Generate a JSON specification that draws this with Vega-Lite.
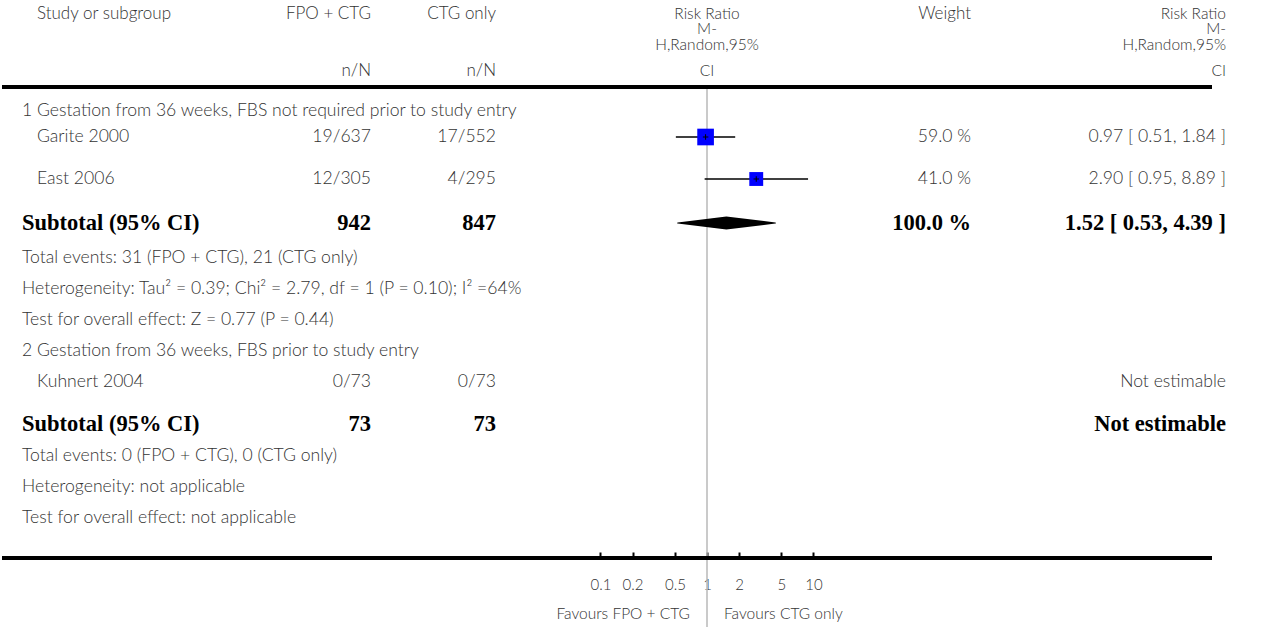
{
  "$schema": "https://vega.github.io/schema/vega-lite/v6.json",
  "background": "white",
  "padding": 0,
  "spacing": 0,
  "bounds": "flush",
  "config": {
    "view": {"stroke": null},
    "text": {"font": "Lato", "fontSize": 17.6, "fontWeight": 300, "color": "#333333", "baseline": "middle"}
  },
  "datasets": {
    "rows": [
      {"row": 5, "kind": "group", "label": "1 Gestation from 36 weeks, FBS not required prior to study entry"},
      {"row": 6, "kind": "study", "label": "Garite 2000", "e1": "19/637", "e2": "17/552", "rr": 0.97, "lo": 0.51, "hi": 1.84, "w": 59.0, "wt": "59.0 %", "ci": "0.97 [ 0.51, 1.84 ]"},
      {"row": 7, "kind": "study", "label": "East 2006", "e1": "12/305", "e2": "4/295", "rr": 2.90, "lo": 0.95, "hi": 8.89, "w": 41.0, "wt": "41.0 %", "ci": "2.90 [ 0.95, 8.89 ]"},
      {"row": 8, "kind": "subtotal", "label": "Subtotal (95% CI)", "e1": "942", "e2": "847", "rr": 1.52, "lo": 0.53, "hi": 4.39, "w": 100.0, "wt": "100.0 %", "ci": "1.52 [ 0.53, 4.39 ]"},
      {"row": 9, "kind": "note", "label": "Total events: 31 (FPO + CTG), 21 (CTG only)"},
      {"row": 10, "kind": "note", "label": "Heterogeneity: Tau² = 0.39; Chi² = 2.79, df = 1 (P = 0.10); I² =64%"},
      {"row": 11, "kind": "note", "label": "Test for overall effect: Z = 0.77 (P = 0.44)"},
      {"row": 12, "kind": "group", "label": "2 Gestation from 36 weeks, FBS prior to study entry"},
      {"row": 13, "kind": "study", "label": "Kuhnert 2004", "e1": "0/73", "e2": "0/73", "ci": "Not estimable"},
      {"row": 14, "kind": "subtotal", "label": "Subtotal (95% CI)", "e1": "73", "e2": "73", "ci": "Not estimable"},
      {"row": 15, "kind": "note", "label": "Total events: 0 (FPO + CTG), 0 (CTG only)"},
      {"row": 16, "kind": "note", "label": "Heterogeneity: not applicable"},
      {"row": 17, "kind": "note", "label": "Test for overall effect: not applicable"}
    ],
    "rules": [{"row": 4}, {"row": 18}]
  },
  "hconcat": [
    {
      "width": 369, "height": 627,
      "layer": [
        {"data": {"name": "rules"}, "mark": {"type": "rule", "strokeWidth": 4, "color": "black"},
         "encoding": {"y": {"field": "row", "type": "quantitative", "axis": null, "scale": {"domain": [0,1,2,3,4,5,6,7,8,9,10,11,12,13,14,15,16,17,18,19,20,21], "range": [13.5,29,44.5,71,87,111,137,179,223,258,289,320,351,382,424,456,487,518,558,586,614,627], "nice": false, "zero": false}}}},
        {"data": {"values": [{"row": 0, "text": "Study or subgroup"}]}, "mark": {"type": "text", "align": "left", "dx": 35, "fontSize": 17},
         "encoding": {"x": {"value": 0}, "y": {"field": "row", "type": "quantitative", "axis": null}, "text": {"field": "text"}}},
        {"data": {"values": [{"row": 0, "text": "FPO + CTG"}, {"row": 3, "text": "n/N"}]}, "mark": {"type": "text", "align": "right", "fontSize": 17},
         "encoding": {"x": {"value": "width"}, "y": {"field": "row", "type": "quantitative", "axis": null}, "text": {"field": "text"}}},
        {"data": {"name": "rows"}, "transform": [{"filter": "datum.kind === 'group' || datum.kind === 'note'"}],
         "mark": {"type": "text", "align": "left", "dx": 20},
         "encoding": {"x": {"value": 0}, "y": {"field": "row", "type": "quantitative", "axis": null}, "text": {"field": "label"}}},
        {"data": {"name": "rows"}, "transform": [{"filter": "datum.kind === 'study'"}],
         "mark": {"type": "text", "align": "left", "dx": 35},
         "encoding": {"x": {"value": 0}, "y": {"field": "row", "type": "quantitative", "axis": null}, "text": {"field": "label"}}},
        {"data": {"name": "rows"}, "transform": [{"filter": "datum.kind === 'subtotal'"}],
         "mark": {"type": "text", "align": "left", "dx": 20, "font": "Liberation Serif", "fontWeight": "bold", "fontSize": 22.5, "color": "black"},
         "encoding": {"x": {"value": 0}, "y": {"field": "row", "type": "quantitative", "axis": null}, "text": {"field": "label"}}},
        {"data": {"name": "rows"}, "transform": [{"filter": "datum.kind === 'study'"}],
         "mark": {"type": "text", "align": "right"},
         "encoding": {"x": {"value": "width"}, "y": {"field": "row", "type": "quantitative", "axis": null}, "text": {"field": "e1"}}},
        {"data": {"name": "rows"}, "transform": [{"filter": "datum.kind === 'subtotal'"}],
         "mark": {"type": "text", "align": "right", "font": "Liberation Serif", "fontWeight": "bold", "fontSize": 22.5, "color": "black"},
         "encoding": {"x": {"value": "width"}, "y": {"field": "row", "type": "quantitative", "axis": null}, "text": {"field": "e1"}}}
      ]
    },
    {
      "width": 123, "height": 627,
      "layer": [
        {"data": {"name": "rules"}, "mark": {"type": "rule", "strokeWidth": 4, "color": "black"},
         "encoding": {"y": {"field": "row", "type": "quantitative", "axis": null, "scale": {"domain": [0,1,2,3,4,5,6,7,8,9,10,11,12,13,14,15,16,17,18,19,20,21], "range": [13.5,29,44.5,71,87,111,137,179,223,258,289,320,351,382,424,456,487,518,558,586,614,627], "nice": false, "zero": false}}}},
        {"data": {"values": [{"row": 0, "text": "CTG only"}, {"row": 3, "text": "n/N"}]}, "mark": {"type": "text", "align": "right", "dx": 2, "fontSize": 17},
         "encoding": {"x": {"value": "width"}, "y": {"field": "row", "type": "quantitative", "axis": null}, "text": {"field": "text"}}},
        {"data": {"name": "rows"}, "transform": [{"filter": "datum.kind === 'study'"}],
         "mark": {"type": "text", "align": "right", "dx": 2},
         "encoding": {"x": {"value": "width"}, "y": {"field": "row", "type": "quantitative", "axis": null}, "text": {"field": "e2"}}},
        {"data": {"name": "rows"}, "transform": [{"filter": "datum.kind === 'subtotal'"}],
         "mark": {"type": "text", "align": "right", "dx": 2, "font": "Liberation Serif", "fontWeight": "bold", "fontSize": 22.5, "color": "black"},
         "encoding": {"x": {"value": "width"}, "y": {"field": "row", "type": "quantitative", "axis": null}, "text": {"field": "e2"}}}
      ]
    },
    {
      "width": 426, "height": 627,
      "layer": [
        {"data": {"values": [{"row": 4, "end": 21}]}, "mark": {"type": "rule", "strokeWidth": 1.5, "color": "#b8b8b8"},
         "encoding": {
           "x": {"datum": 1, "type": "quantitative", "scale": {"type": "log", "domain": [0.01, 100], "nice": false},
                 "axis": {"values": [0.1, 0.2, 0.5, 1, 2, 5, 10], "format": "~g", "domain": false, "grid": false, "tickSize": 6, "tickWidth": 2, "tickColor": "black", "labelFont": "Lato", "labelFontWeight": 300, "labelFontSize": 15, "labelColor": "#333333", "labelPadding": 19, "labelOverlap": false, "labelFlush": false, "offset": -75, "title": null, "orient": "bottom"}},
           "y": {"field": "row", "type": "quantitative", "axis": null, "scale": {"domain": [0,1,2,3,4,5,6,7,8,9,10,11,12,13,14,15,16,17,18,19,20,21], "range": [13.5,29,44.5,71,87,111,137,179,223,258,289,320,351,382,424,456,487,518,558,586,614,627], "nice": false, "zero": false}},
           "y2": {"field": "end"}}},
        {"data": {"name": "rules"}, "mark": {"type": "rule", "strokeWidth": 4, "color": "black"},
         "encoding": {"y": {"field": "row", "type": "quantitative", "axis": null}}},
        {"data": {"name": "rows"}, "transform": [{"filter": "datum.kind === 'study' && isValid(datum.rr)"}],
         "mark": {"type": "rule", "strokeWidth": 1.5, "color": "black"},
         "encoding": {
           "x": {"field": "lo", "type": "quantitative", "axis": {"values": [0.1, 0.2, 0.5, 1, 2, 5, 10], "format": "~g", "domain": false, "grid": false, "tickSize": 6, "tickWidth": 2, "tickColor": "black", "labelFont": "Lato", "labelFontWeight": 300, "labelFontSize": 15, "labelColor": "#333333", "labelPadding": 19, "labelOverlap": false, "labelFlush": false, "offset": -75, "title": null, "orient": "bottom"}},
           "x2": {"field": "hi"},
           "y": {"field": "row", "type": "quantitative", "axis": null}}},
        {"data": {"name": "rows"}, "transform": [{"filter": "datum.kind === 'study' && isValid(datum.rr)"}],
         "mark": {"type": "square", "filled": true, "color": "#0000ff", "opacity": 1},
         "encoding": {
           "x": {"field": "rr", "type": "quantitative", "axis": {"values": [0.1, 0.2, 0.5, 1, 2, 5, 10], "format": "~g", "domain": false, "grid": false, "tickSize": 6, "tickWidth": 2, "tickColor": "black", "labelFont": "Lato", "labelFontWeight": 300, "labelFontSize": 15, "labelColor": "#333333", "labelPadding": 19, "labelOverlap": false, "labelFlush": false, "offset": -75, "title": null, "orient": "bottom"}},
           "y": {"field": "row", "type": "quantitative", "axis": null},
           "size": {"field": "w", "type": "quantitative", "legend": null, "scale": {"domain": [0, 100], "range": [0, 470]}}}},
        {"data": {"name": "rows"}, "transform": [{"filter": "datum.kind === 'study' && isValid(datum.rr)"}],
         "mark": {"type": "point", "shape": "M-1,0H1M0,-1V1", "filled": false, "color": "black", "strokeWidth": 1, "size": 30, "opacity": 1},
         "encoding": {
           "x": {"field": "rr", "type": "quantitative", "axis": {"values": [0.1, 0.2, 0.5, 1, 2, 5, 10], "format": "~g", "domain": false, "grid": false, "tickSize": 6, "tickWidth": 2, "tickColor": "black", "labelFont": "Lato", "labelFontWeight": 300, "labelFontSize": 15, "labelColor": "#333333", "labelPadding": 19, "labelOverlap": false, "labelFlush": false, "offset": -75, "title": null, "orient": "bottom"}},
           "y": {"field": "row", "type": "quantitative", "axis": null}}},
        {"data": {"name": "rows"}, "transform": [{"filter": "datum.kind === 'subtotal' && isValid(datum.rr)"}, {"fold": ["lo", "rr", "hi"], "as": ["key", "value"]}],
         "mark": {"type": "trail", "color": "black"},
         "encoding": {
           "x": {"field": "value", "type": "quantitative", "axis": {"values": [0.1, 0.2, 0.5, 1, 2, 5, 10], "format": "~g", "domain": false, "grid": false, "tickSize": 6, "tickWidth": 2, "tickColor": "black", "labelFont": "Lato", "labelFontWeight": 300, "labelFontSize": 15, "labelColor": "#333333", "labelPadding": 19, "labelOverlap": false, "labelFlush": false, "offset": -75, "title": null, "orient": "bottom"}},
           "y": {"field": "row", "type": "quantitative", "axis": null},
           "order": {"field": "value", "type": "quantitative"},
           "size": {"condition": {"test": "datum.key === 'rr'", "value": 13}, "value": 0}}},
        {"data": {"values": [{"row": 0, "text": "Risk Ratio"}, {"row": 1, "text": "M-"}, {"row": 2, "text": "H,Random,95%"}, {"row": 3, "text": "CI"}]},
         "mark": {"type": "text", "align": "center", "fontSize": 15.5},
         "encoding": {
           "x": {"datum": 1, "type": "quantitative", "axis": {"values": [0.1, 0.2, 0.5, 1, 2, 5, 10], "format": "~g", "domain": false, "grid": false, "tickSize": 6, "tickWidth": 2, "tickColor": "black", "labelFont": "Lato", "labelFontWeight": 300, "labelFontSize": 15, "labelColor": "#333333", "labelPadding": 19, "labelOverlap": false, "labelFlush": false, "offset": -75, "title": null, "orient": "bottom"}},
           "y": {"field": "row", "type": "quantitative", "axis": null},
           "text": {"field": "text"}}},
        {"data": {"values": [{"row": 20, "text": "Favours FPO + CTG"}]},
         "mark": {"type": "text", "align": "right", "dx": -17, "fontSize": 15.5},
         "encoding": {
           "x": {"datum": 1, "type": "quantitative", "axis": {"values": [0.1, 0.2, 0.5, 1, 2, 5, 10], "format": "~g", "domain": false, "grid": false, "tickSize": 6, "tickWidth": 2, "tickColor": "black", "labelFont": "Lato", "labelFontWeight": 300, "labelFontSize": 15, "labelColor": "#333333", "labelPadding": 19, "labelOverlap": false, "labelFlush": false, "offset": -75, "title": null, "orient": "bottom"}},
           "y": {"field": "row", "type": "quantitative", "axis": null},
           "text": {"field": "text"}}},
        {"data": {"values": [{"row": 20, "text": "Favours CTG only"}]},
         "mark": {"type": "text", "align": "left", "dx": 17, "fontSize": 15.5},
         "encoding": {
           "x": {"datum": 1, "type": "quantitative", "axis": {"values": [0.1, 0.2, 0.5, 1, 2, 5, 10], "format": "~g", "domain": false, "grid": false, "tickSize": 6, "tickWidth": 2, "tickColor": "black", "labelFont": "Lato", "labelFontWeight": 300, "labelFontSize": 15, "labelColor": "#333333", "labelPadding": 19, "labelOverlap": false, "labelFlush": false, "offset": -75, "title": null, "orient": "bottom"}},
           "y": {"field": "row", "type": "quantitative", "axis": null},
           "text": {"field": "text"}}}
      ]
    },
    {
      "width": 51, "height": 627,
      "layer": [
        {"data": {"name": "rules"}, "mark": {"type": "rule", "strokeWidth": 4, "color": "black"},
         "encoding": {"y": {"field": "row", "type": "quantitative", "axis": null, "scale": {"domain": [0,1,2,3,4,5,6,7,8,9,10,11,12,13,14,15,16,17,18,19,20,21], "range": [13.5,29,44.5,71,87,111,137,179,223,258,289,320,351,382,424,456,487,518,558,586,614,627], "nice": false, "zero": false}}}},
        {"data": {"values": [{"row": 0, "text": "Weight"}]}, "mark": {"type": "text", "align": "right", "fontSize": 17},
         "encoding": {"x": {"value": "width"}, "y": {"field": "row", "type": "quantitative", "axis": null}, "text": {"field": "text"}}},
        {"data": {"name": "rows"}, "transform": [{"filter": "datum.kind === 'study' && isValid(datum.wt)"}],
         "mark": {"type": "text", "align": "right"},
         "encoding": {"x": {"value": "width"}, "y": {"field": "row", "type": "quantitative", "axis": null}, "text": {"field": "wt"}}},
        {"data": {"name": "rows"}, "transform": [{"filter": "datum.kind === 'subtotal' && isValid(datum.wt)"}],
         "mark": {"type": "text", "align": "right", "font": "Liberation Serif", "fontWeight": "bold", "fontSize": 22.5, "color": "black"},
         "encoding": {"x": {"value": "width"}, "y": {"field": "row", "type": "quantitative", "axis": null}, "text": {"field": "wt"}}}
      ]
    },
    {
      "width": 241, "height": 627,
      "layer": [
        {"data": {"name": "rules"}, "mark": {"type": "rule", "strokeWidth": 4, "color": "black"},
         "encoding": {"y": {"field": "row", "type": "quantitative", "axis": null, "scale": {"domain": [0,1,2,3,4,5,6,7,8,9,10,11,12,13,14,15,16,17,18,19,20,21], "range": [13.5,29,44.5,71,87,111,137,179,223,258,289,320,351,382,424,456,487,518,558,586,614,627], "nice": false, "zero": false}}}},
        {"data": {"values": [{"row": 0, "text": "Risk Ratio"}, {"row": 1, "text": "M-"}, {"row": 2, "text": "H,Random,95%"}, {"row": 3, "text": "CI"}]},
         "mark": {"type": "text", "align": "right", "dx": 14, "fontSize": 15.5},
         "encoding": {"x": {"value": "width"}, "y": {"field": "row", "type": "quantitative", "axis": null}, "text": {"field": "text"}}},
        {"data": {"name": "rows"}, "transform": [{"filter": "datum.kind === 'study'"}],
         "mark": {"type": "text", "align": "right", "dx": 14},
         "encoding": {"x": {"value": "width"}, "y": {"field": "row", "type": "quantitative", "axis": null}, "text": {"field": "ci"}}},
        {"data": {"name": "rows"}, "transform": [{"filter": "datum.kind === 'subtotal'"}],
         "mark": {"type": "text", "align": "right", "dx": 14, "font": "Liberation Serif", "fontWeight": "bold", "fontSize": 22.5, "color": "black"},
         "encoding": {"x": {"value": "width"}, "y": {"field": "row", "type": "quantitative", "axis": null}, "text": {"field": "ci"}}}
      ]
    }
  ]
}
